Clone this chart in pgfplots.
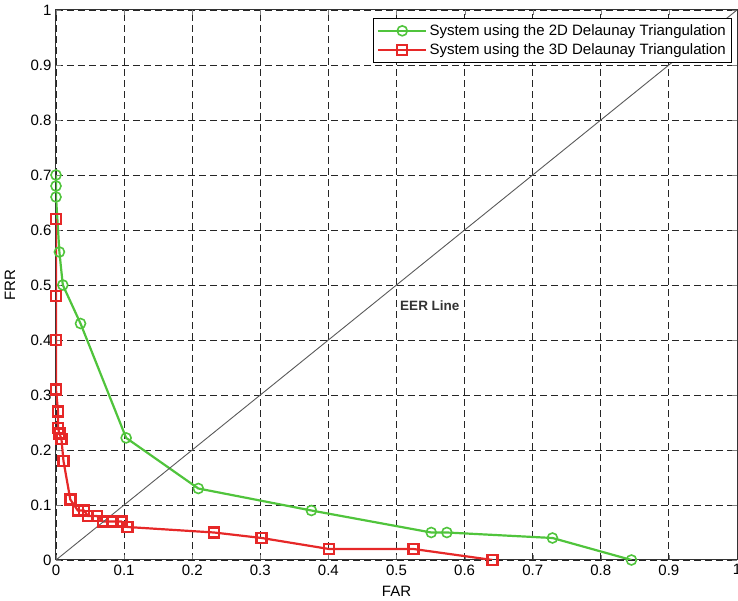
\documentclass[border=0pt]{standalone}
\usepackage{pgfplots}
\pgfplotsset{compat=1.18}
\usepackage{fontspec}
\setmainfont{Liberation Sans}
\definecolor{mgreen}{RGB}{80,196,60}
\definecolor{mred}{RGB}{230,40,40}
\begin{document}
\begin{tikzpicture}
\begin{axis}[name=ax,
  scale only axis, width=681pt, height=550pt,
  xmin=0, xmax=1, ymin=0, ymax=1,
  xtick={0,0.1,0.2,0.3,0.4,0.5,0.6,0.7,0.8,0.9,1},
  ytick={0,0.1,0.2,0.3,0.4,0.5,0.6,0.7,0.8,0.9,1},
  xticklabels={0,0.1,0.2,0.3,0.4,0.5,0.6,0.7,0.8,0.9,1},
  yticklabels={0,0.1,0.2,0.3,0.4,0.5,0.6,0.7,0.8,0.9,1},
  tick align=inside, major tick length=5pt,
  grid=major,
  grid style={black!85, line width=0.9pt, dash pattern=on 7pt off 4pt},
  axis line style={black!80, line width=1pt},
  font=\fontsize{15}{17}\selectfont,
  xticklabel style={yshift=-1pt},
  yticklabel style={xshift=-1pt},
  xlabel={FAR}, ylabel={FRR},
  xlabel style={at={(axis description cs:0.5,-0.0564)}, anchor=center},
  ylabel style={at={(axis description cs:-0.0675,0.5)}, anchor=center},
  legend style={at={(0.993,0.985)}, anchor=north east, draw=black, line width=0.8pt,
    fill=white, font=\fontsize{15}{17}\selectfont, row sep=3pt, inner sep=4pt},
  legend cell align=left,
  legend image code/.code={\draw[mark repeat=2,mark phase=2] plot coordinates {(0cm,0cm) (0.85cm,0cm) (1.7cm,0cm)};},
]
\addplot[mgreen, line width=2.2pt, mark=o, mark size=5pt, mark options={line width=1.6pt}] coordinates {
(0,0.70) (0,0.68) (0,0.66) (0.005,0.56) (0.010,0.50) (0.036,0.43)
(0.103,0.222) (0.209,0.13) (0.375,0.09) (0.551,0.05) (0.574,0.05)
(0.729,0.04) (0.845,0.0)
};
\addlegendentry{System using the 2D Delaunay Triangulation}
\addplot[mred, line width=2.2pt, mark=square, mark size=5pt, mark options={line width=2.4pt}] coordinates {
(0,0.62) (0,0.48) (0,0.40) (0,0.31) (0.003,0.27) (0.003,0.24) (0.005,0.23)
(0.008,0.22) (0.011,0.18) (0.021,0.11) (0.032,0.09) (0.041,0.09)
(0.047,0.08) (0.060,0.08) (0.069,0.07) (0.083,0.07) (0.096,0.07)
(0.105,0.06) (0.232,0.05) (0.302,0.04) (0.401,0.02) (0.525,0.02) (0.641,0.0)
};
\addlegendentry{System using the 3D Delaunay Triangulation}
\addplot[gray!70!black, line width=0.9pt, forget plot] coordinates {(0,0) (1,1)};
\node[font=\bfseries\fontsize{13.5}{15}\selectfont, text=black!80] at (axis cs:0.549,0.463) {EER Line};
\end{axis}
\pgfresetboundingbox
\path ([xshift=-56pt,yshift=-41pt]ax.south west) rectangle ([xshift=1pt,yshift=10pt]ax.north east);
\end{tikzpicture}
\end{document}
